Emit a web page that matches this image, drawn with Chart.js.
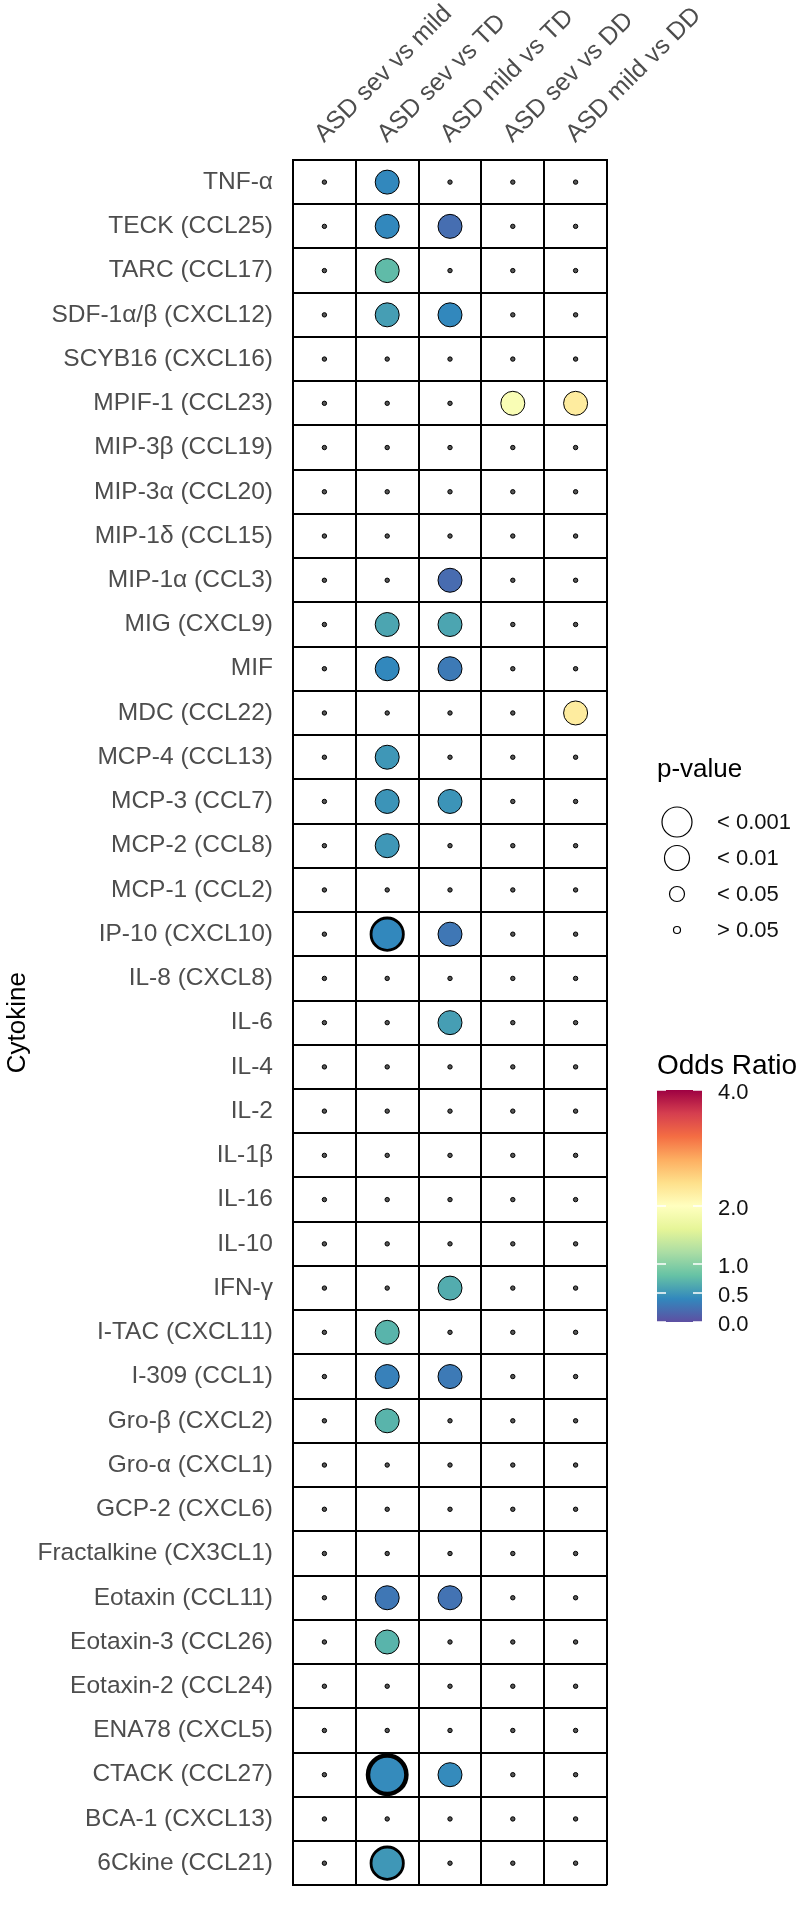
<!DOCTYPE html>
<html>
<head>
<meta charset="utf-8">
<script src="https://cdn.jsdelivr.net/npm/chart.js@4"></script>
<style>
  html, body { margin: 0; padding: 0; background: #fff; }
  #wrap { width: 812px; height: 1920px; }
</style>
</head>
<body>
<div id="wrap"><canvas id="chart" width="812" height="1920"></canvas></div>
<script>
// comparisons (columns) and cytokines (rows, top to bottom)
const comparisons = ['ASD sev vs mild', 'ASD sev vs TD', 'ASD mild vs TD', 'ASD sev vs DD', 'ASD mild vs DD'];

const cytokines = [
  'TNF-α', 'TECK (CCL25)', 'TARC (CCL17)', 'SDF-1α/β (CXCL12)', 'SCYB16 (CXCL16)',
  'MPIF-1 (CCL23)', 'MIP-3β (CCL19)', 'MIP-3α (CCL20)', 'MIP-1δ (CCL15)', 'MIP-1α (CCL3)',
  'MIG (CXCL9)', 'MIF', 'MDC (CCL22)', 'MCP-4 (CCL13)', 'MCP-3 (CCL7)',
  'MCP-2 (CCL8)', 'MCP-1 (CCL2)', 'IP-10 (CXCL10)', 'IL-8 (CXCL8)', 'IL-6',
  'IL-4', 'IL-2', 'IL-1β', 'IL-16', 'IL-10',
  'IFN-γ', 'I-TAC (CXCL11)', 'I-309 (CCL1)', 'Gro-β (CXCL2)', 'Gro-α (CXCL1)',
  'GCP-2 (CXCL6)', 'Fractalkine (CX3CL1)', 'Eotaxin (CCL11)', 'Eotaxin-3 (CCL26)', 'Eotaxin-2 (CCL24)',
  'ENA78 (CXCL5)', 'CTACK (CCL27)', 'BCA-1 (CXCL13)', '6Ckine (CCL21)'
];

const _ = null; // not significant (p > 0.05), odds ratio not shown

// odds ratios, one array per comparison (same order as cytokines)
const orSevMild = [_,_,_,_,_, _,_,_,_,_, _,_,_,_,_, _,_,_,_,_, _,_,_,_,_, _,_,_,_,_, _,_,_,_,_, _,_,_,_];
const orSevTD   = [0.40,0.40,0.75,0.55,_, _,_,_,_,_, 0.60,0.40,_,0.50,0.48, 0.50,_,0.40,_,_, _,_,_,_,_, _,0.70,0.35,0.70,_, _,_,0.28,0.70,_, _,0.42,_,0.50];
const orMildTD  = [_,0.22,_,0.40,_, _,_,_,_,0.20, 0.60,0.30,_,_,0.48, _,_,0.28,_,0.55, _,_,_,_,_, 0.65,_,0.30,_,_, _,_,0.25,_,_, _,0.42,_,_];
const orSevDD   = [_,_,_,_,_, 1.90,_,_,_,_, _,_,_,_,_, _,_,_,_,_, _,_,_,_,_, _,_,_,_,_, _,_,_,_,_, _,_,_,_];
const orMildDD  = [_,_,_,_,_, 2.25,_,_,_,_, _,_,2.25,_,_, _,_,_,_,_, _,_,_,_,_, _,_,_,_,_, _,_,_,_,_, _,_,_,_];

// p-values (null = > 0.05)
const pSevMild = [_,_,_,_,_, _,_,_,_,_, _,_,_,_,_, _,_,_,_,_, _,_,_,_,_, _,_,_,_,_, _,_,_,_,_, _,_,_,_];
const pSevTD   = [0.01,0.01,0.01,0.01,_, _,_,_,_,_, 0.01,0.01,_,0.01,0.01, 0.01,_,0.0007,_,_, _,_,_,_,_, _,0.01,0.01,0.01,_, _,_,0.01,0.01,_, _,0.0001,_,0.0007];
const pMildTD  = [_,0.01,_,0.01,_, _,_,_,_,0.01, 0.01,0.01,_,_,0.01, _,_,0.01,_,0.01, _,_,_,_,_, 0.01,_,0.01,_,_, _,_,0.01,_,_, _,0.01,_,_];
const pSevDD   = [_,_,_,_,_, 0.01,_,_,_,_, _,_,_,_,_, _,_,_,_,_, _,_,_,_,_, _,_,_,_,_, _,_,_,_,_, _,_,_,_];
const pMildDD  = [_,_,_,_,_, 0.01,_,_,_,_, _,_,0.01,_,_, _,_,_,_,_, _,_,_,_,_, _,_,_,_,_, _,_,_,_,_, _,_,_,_];

const oddsRatios = [orSevMild, orSevTD, orMildTD, orSevDD, orMildDD];
const pValues = [pSevMild, pSevTD, pMildTD, pSevDD, pMildDD];

// legend values
const pLegendLabels = ['< 0.001', '< 0.01', '< 0.05', '> 0.05'];
const orTicks = [0.0, 0.5, 1.0, 2.0, 4.0];
const orMax = 4;

// Spectral palette (low -> high)
const spectral = ['#5E4FA2', '#3288BD', '#66C2A5', '#ABDDA4', '#E6F598', '#FFFFBF',
                  '#FEE08B', '#FDAE61', '#F46D43', '#D53E4F', '#9E0142'];

function hexToRgb(h) {
  return [parseInt(h.slice(1, 3), 16), parseInt(h.slice(3, 5), 16), parseInt(h.slice(5, 7), 16)];
}

function colorFor(v) {
  let t = Math.max(0, Math.min(1, v / orMax)) * (spectral.length - 1);
  const i = Math.min(Math.floor(t), spectral.length - 2);
  const f = t - i;
  const a = hexToRgb(spectral[i]), b = hexToRgb(spectral[i + 1]);
  const c = a.map((x, k) => Math.round(x + (b[k] - x) * f));
  return `rgb(${c[0]}, ${c[1]}, ${c[2]})`;
}

function radiusFor(p) {
  if (p == null) return 2.2;
  return 12 + 3.6 * (-Math.log10(p) - 2);
}

function borderFor(p) {
  if (p == null) return 1;
  const s = -Math.log10(p);
  return s >= 3 ? 2.5 + 2 * (s - 3) : 1;
}

const FONT = "'Liberation Sans', Arial, sans-serif";

// legend drawn next to the plot
const legendPlugin = {
  id: 'sideLegend',
  afterDraw(chart) {
    const c = chart.ctx;
    c.save();
    // p-value legend
    c.fillStyle = '#000';
    c.font = `26px ${FONT}`;
    c.textAlign = 'left';
    c.textBaseline = 'middle';
    c.fillText('p-value', 657, 770);
    const radii = [15, 12.5, 7.5, 3.5];
    const ys = [822, 858, 894, 930];
    c.font = `22px ${FONT}`;
    radii.forEach((r, i) => {
      c.beginPath();
      c.arc(677, ys[i], r, 0, Math.PI * 2);
      c.lineWidth = 1.2;
      c.strokeStyle = '#000';
      c.stroke();
      c.fillStyle = '#111';
      c.fillText(pLegendLabels[i], 717, ys[i] + 1);
    });

    // odds ratio colourbar
    c.font = `28px ${FONT}`;
    c.fillStyle = '#000';
    c.fillText('Odds Ratio', 657, 1066);
    const x0 = 657, w = 45, top = 1090, bot = 1322;
    const g = c.createLinearGradient(0, bot, 0, top);
    spectral.forEach((col, i) => g.addColorStop(i / (spectral.length - 1), col));
    c.fillStyle = g;
    c.fillRect(x0, top, w, bot - top);
    c.font = `22px ${FONT}`;
    orTicks.forEach(v => {
      const y = bot - (v / orMax) * (bot - top);
      c.strokeStyle = '#fff';
      c.lineWidth = 1.5;
      c.beginPath();
      c.moveTo(x0, y); c.lineTo(x0 + 9, y);
      c.moveTo(x0 + w - 9, y); c.lineTo(x0 + w, y);
      c.stroke();
      c.fillStyle = '#111';
      c.fillText(v.toFixed(1), 718, y + 3);
    });
    c.restore();
  }
};

const datasets = comparisons.map((comp, ci) => ({
  label: comp,
  data: cytokines.map((name, ri) => ({ x: comp, y: name, or: oddsRatios[ci][ri], p: pValues[ci][ri] })),
  pointRadius: ctx => radiusFor(ctx.raw.p),
  pointBorderWidth: ctx => borderFor(ctx.raw.p),
  pointBackgroundColor: ctx => ctx.raw.or == null ? '#555' : colorFor(ctx.raw.or),
  pointBorderColor: '#000',
  clip: false
}));

const ctx = document.getElementById('chart').getContext('2d');
new Chart(ctx, {
  type: 'scatter',
  data: { datasets: datasets },
  options: {
    responsive: false,
    animation: false,
    events: [],
    layout: { padding: { left: 0, right: 205, top: 0, bottom: 7 } },
    plugins: { legend: { display: false }, tooltip: { enabled: false } },
    scales: {
      x: {
        type: 'category',
        labels: comparisons,
        position: 'top',
        offset: true,
        grid: { offset: true, color: '#000', lineWidth: 2, drawTicks: false },
        border: { color: '#000', width: 2 },
        ticks: {
          color: '#4d4d4d', font: { family: FONT, size: 25 },
          minRotation: 45, maxRotation: 45, padding: 11, labelOffset: 16, autoSkip: false
        },
        afterFit: s => { s.height = 160; }
      },
      y: {
        type: 'category',
        labels: cytokines,
        offset: true,
        grid: { offset: true, color: '#000', lineWidth: 2, drawTicks: false },
        border: { color: '#000', width: 2 },
        ticks: { color: '#4d4d4d', font: { family: FONT, size: 24.5 }, padding: 20, autoSkip: false },
        title: { display: true, text: 'Cytokine', color: '#000', font: { family: FONT, size: 26 }, padding: { top: 2, bottom: 0 } },
        afterFit: s => { s.width = 293; }
      }
    }
  },
  plugins: [legendPlugin]
});
</script>
</body>
</html>
